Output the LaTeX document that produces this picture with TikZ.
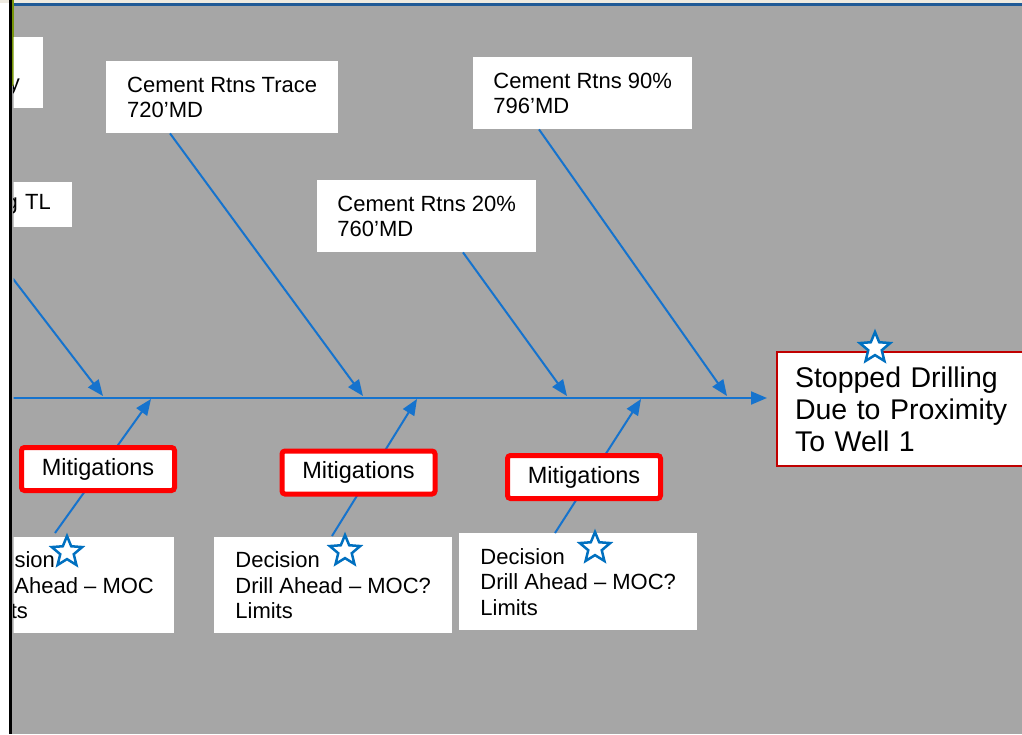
\documentclass[tikz,border=0pt]{standalone}
\usepackage{fontspec}
\setmainfont{Liberation Sans}
\usetikzlibrary{positioning,arrows.meta,shapes.geometric}
\definecolor{slidegray}{RGB}{166,166,166}
\definecolor{bonecolor}{RGB}{22,115,205}
\definecolor{starblue}{RGB}{0,112,192}
\definecolor{mitred}{RGB}{255,0,0}
\definecolor{headred}{RGB}{192,0,0}
\definecolor{railblue}{RGB}{31,90,150}
\definecolor{olivestrip}{RGB}{120,150,10}
\definecolor{topstrip}{RGB}{238,234,224}
\tikzset{
  bonearrow/.style={-{Triangle[length=16pt,width=13pt]}, line width=2pt, draw=bonecolor},
  causebox/.style={fill=white, anchor=north west, align=left, inner xsep=20pt, inner ysep=0pt, font=\fontsize{22}{25.5}\selectfont},
  decisionbox/.style={causebox, minimum width=238pt, minimum height=96pt},
  mitbox/.style={draw=mitred, line width=5pt, rounded corners=3pt, fill=white, minimum width=153pt, minimum height=43pt, inner sep=0pt, font=\fontsize{23.5}{27}\selectfont},
  headbox/.style={draw=headred, line width=2pt, fill=white, anchor=north west, align=left, inner xsep=18pt, text width=215pt, minimum height=114pt, font=\fontsize{28.5}{32}\selectfont},
  starmark/.style={star, star points=5, star point ratio=2.25, minimum size=32pt, inner sep=0pt, draw=starblue, line width=2.5pt, fill=white}
}
\begin{document}
\begin{tikzpicture}[x=1pt, y=-1pt]
  \useasboundingbox (0,0) rectangle (1022,734);
  \fill[white] (0,0) rectangle (1022,734);
  \fill[topstrip] (0,0) rectangle (1022,3);
  \fill[slidegray] (12,5) rectangle (1022,734);
  \fill[railblue] (13.5,3) rectangle (1022,5.5);
  \fill[black] (8.5,0) rectangle (12,734);
  \fill[olivestrip] (12,0) rectangle (13.7,86);

  \begin{scope}
    \clip (13.7,5.5) rectangle (1022,734);

    \node[causebox, anchor=north east, align=right, text width=60pt, minimum height=71pt, inner xsep=23pt] (upper) at (43,37) {\strut\\y\strut};
    \node[causebox, anchor=north east, align=right, text width=98pt, minimum height=45pt, inner xsep=21pt] (tl) at (72,182) {g TL};
    \node[causebox, minimum width=232pt, minimum height=72pt] (trace) at (106,61) {Cement Rtns Trace\\720’MD};
    \node[causebox, minimum width=219pt, minimum height=72pt] (twenty) at (317,180) {Cement Rtns 20\%\\760’MD};
    \node[causebox, minimum width=219pt, minimum height=72pt] (ninety) at (473,57) {Cement Rtns 90\%\\796’MD};

    \node[headbox] (head) at (776,351) {Stopped Drilling\\Due to Proximity\\To Well 1};

    \node[decisionbox, minimum width=224pt] (decA) at (-50,537) {Decision\\Drill Ahead – MOC\\Limits};
    \node[decisionbox] (decB) at (214,537) {Decision\\Drill Ahead – MOC?\\Limits};
    \node[decisionbox, minimum height=97pt] (decC) at (459,533) {Decision\\Drill Ahead – MOC?\\Limits};

    \coordinate (spine0) at (13,398);
    \coordinate (ptl) at (103,396);
    \coordinate (ptrace) at (363,396);
    \coordinate (ptwenty) at (567,396);
    \coordinate (pninety) at (727,396);
    \coordinate (pmitA) at (151,399);
    \coordinate (pmitB) at (417,399);
    \coordinate (pmitC) at (641,399);

    \draw[bonearrow, shorten >=9pt] (spine0) -- (spine0 -| head.west);
    \draw[bonearrow] ([xshift=42pt]tl.south west) -- (ptl);
    \draw[bonearrow] ([xshift=64pt]trace.south west) -- (ptrace);
    \draw[bonearrow] ([xshift=146pt]twenty.south west) -- (ptwenty);
    \draw[bonearrow] ([xshift=66pt]ninety.south west) -- (pninety);
    \draw[bonearrow] ([xshift=105pt,yshift=4pt]decA.north west) -- (pmitA);
    \draw[bonearrow] ([xshift=118pt,yshift=1pt]decB.north west) -- (pmitB);
    \draw[bonearrow] ([xshift=96pt]decC.north west) -- (pmitC);

    \node[mitbox] (mitA) at (98,469) {Mitigations};
    \node[mitbox] (mitB) at (358.5,472.5) {Mitigations};
    \node[mitbox] (mitC) at (584,477) {Mitigations};

    \node[starmark] (headstar) at (875,348) {};
    \node[starmark] (starA) at (67,552) {};
    \node[starmark] (starB) at (345,551) {};
    \node[starmark] (starC) at (595,548) {};
  \end{scope}
\end{tikzpicture}
\end{document}
